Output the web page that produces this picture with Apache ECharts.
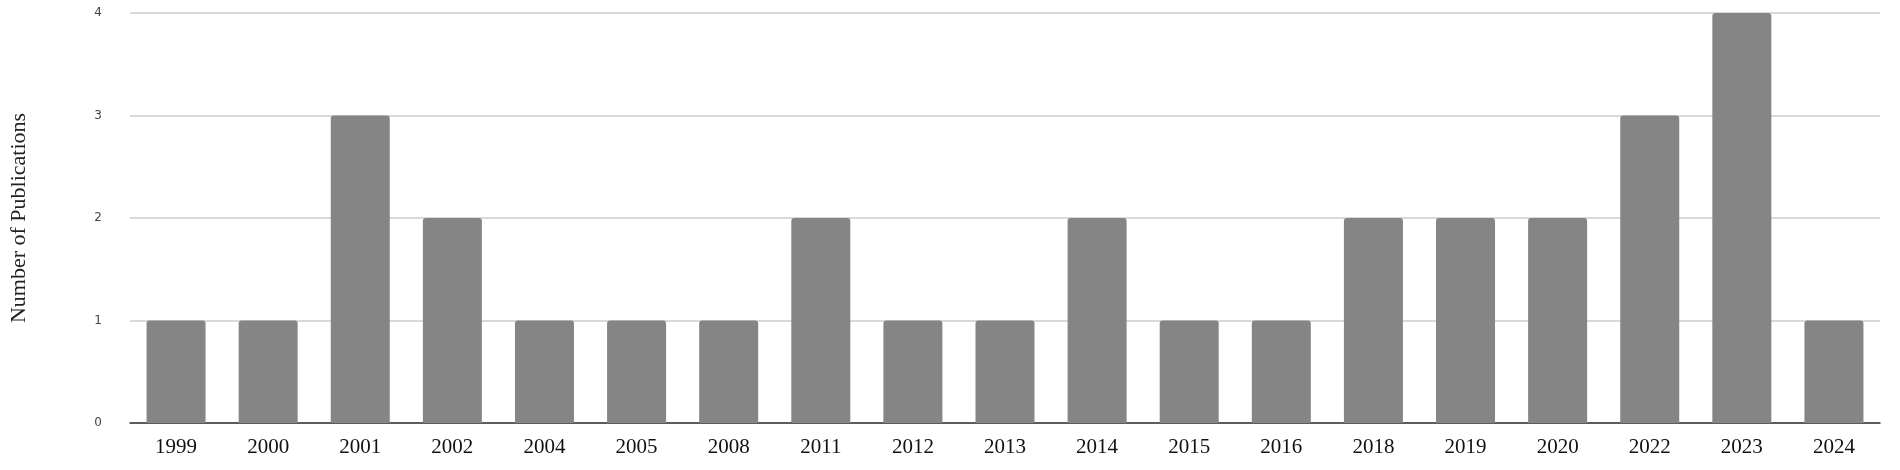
<!DOCTYPE html>
<html>
<head>
<meta charset="utf-8">
<script src="https://cdn.jsdelivr.net/npm/echarts@6/dist/echarts.min.js"></script>
<style>html,body{margin:0;padding:0;background:#fff}#main{width:1900px;height:470px}</style>
</head>
<body>
<div id="main"></div>
<script>
var years = ['1999','2000','2001','2002','2004','2005','2008','2011','2012','2013','2014','2015','2016','2018','2019','2020','2022','2023','2024'];
var counts = [1,1,3,2,1,1,1,2,1,1,2,1,1,2,2,2,3,4,1];
var yTicks = [0,1,2,3,4];

var chart = echarts.init(document.getElementById('main'));
chart.setOption({
  animation: false,
  grid: {left: 124, right: 20, top: 13, bottom: 47},
  xAxis: {
    type: 'category',
    data: years,
    axisTick: {show: false},
    axisLine: {lineStyle: {color: '#333', width: 1.5}},
    axisLabel: {color: '#111', fontFamily: 'Liberation Serif', fontSize: 21, margin: 14}
  },
  yAxis: {
    type: 'value',
    min: yTicks[0],
    max: yTicks[yTicks.length - 1],
    interval: 1,
    name: 'Number of Publications',
    nameLocation: 'middle',
    nameGap: 100,
    nameTextStyle: {fontFamily: 'Liberation Serif', fontSize: 22, color: '#222'},
    axisLabel: {color: '#444', fontFamily: 'DejaVu Sans', fontSize: 12, margin: 28},
    splitLine: {lineStyle: {color: '#ccc', width: 1.5}}
  },
  series: [{
    type: 'bar',
    data: counts,
    barWidth: 59,
    itemStyle: {color: '#858585', borderRadius: [3,3,0,0]}
  }]
});
</script>
</body>
</html>
